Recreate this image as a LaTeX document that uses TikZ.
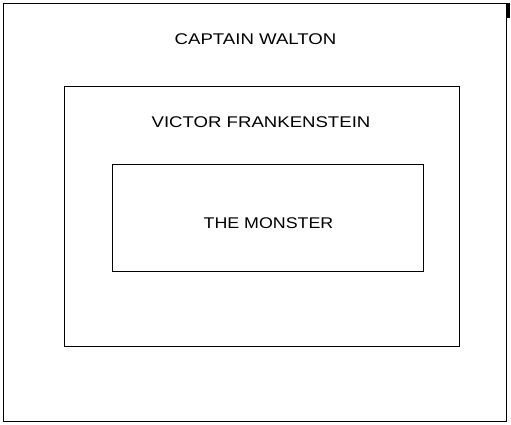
\documentclass[tikz,border=0pt]{standalone}
\usepackage{fontspec}
\usepackage{graphicx}
\setmainfont{Liberation Sans}
\begin{document}
\begin{tikzpicture}[x=1pt,y=-1pt,
  frame/.style={draw=black,line width=1pt},
  lbl/.style={inner sep=0pt,font=\fontsize{15.5}{18}\selectfont}]
\useasboundingbox[fill=white] (0,0) rectangle (511,425);
\draw[frame] (3.5,3.5) rectangle (506.5,421.5);
\fill[black] (507,3) rectangle (510,18);
\draw[frame] (64.5,86.5) rectangle (459.5,346.5);
\draw[frame] (112.5,164.5) rectangle (423.5,271.5);
\node[lbl] (walton) at (255.5,39) {\scalebox{1.2}[1]{CAPTAIN WALTON}};
\node[lbl] (victor) at (261,122.5) {\scalebox{1.2}[1]{VICTOR FRANKENSTEIN}};
\node[lbl] (monster) at (268.5,222.7) {\scalebox{1.15}[1]{THE MONSTER}};
\end{tikzpicture}
\end{document}
